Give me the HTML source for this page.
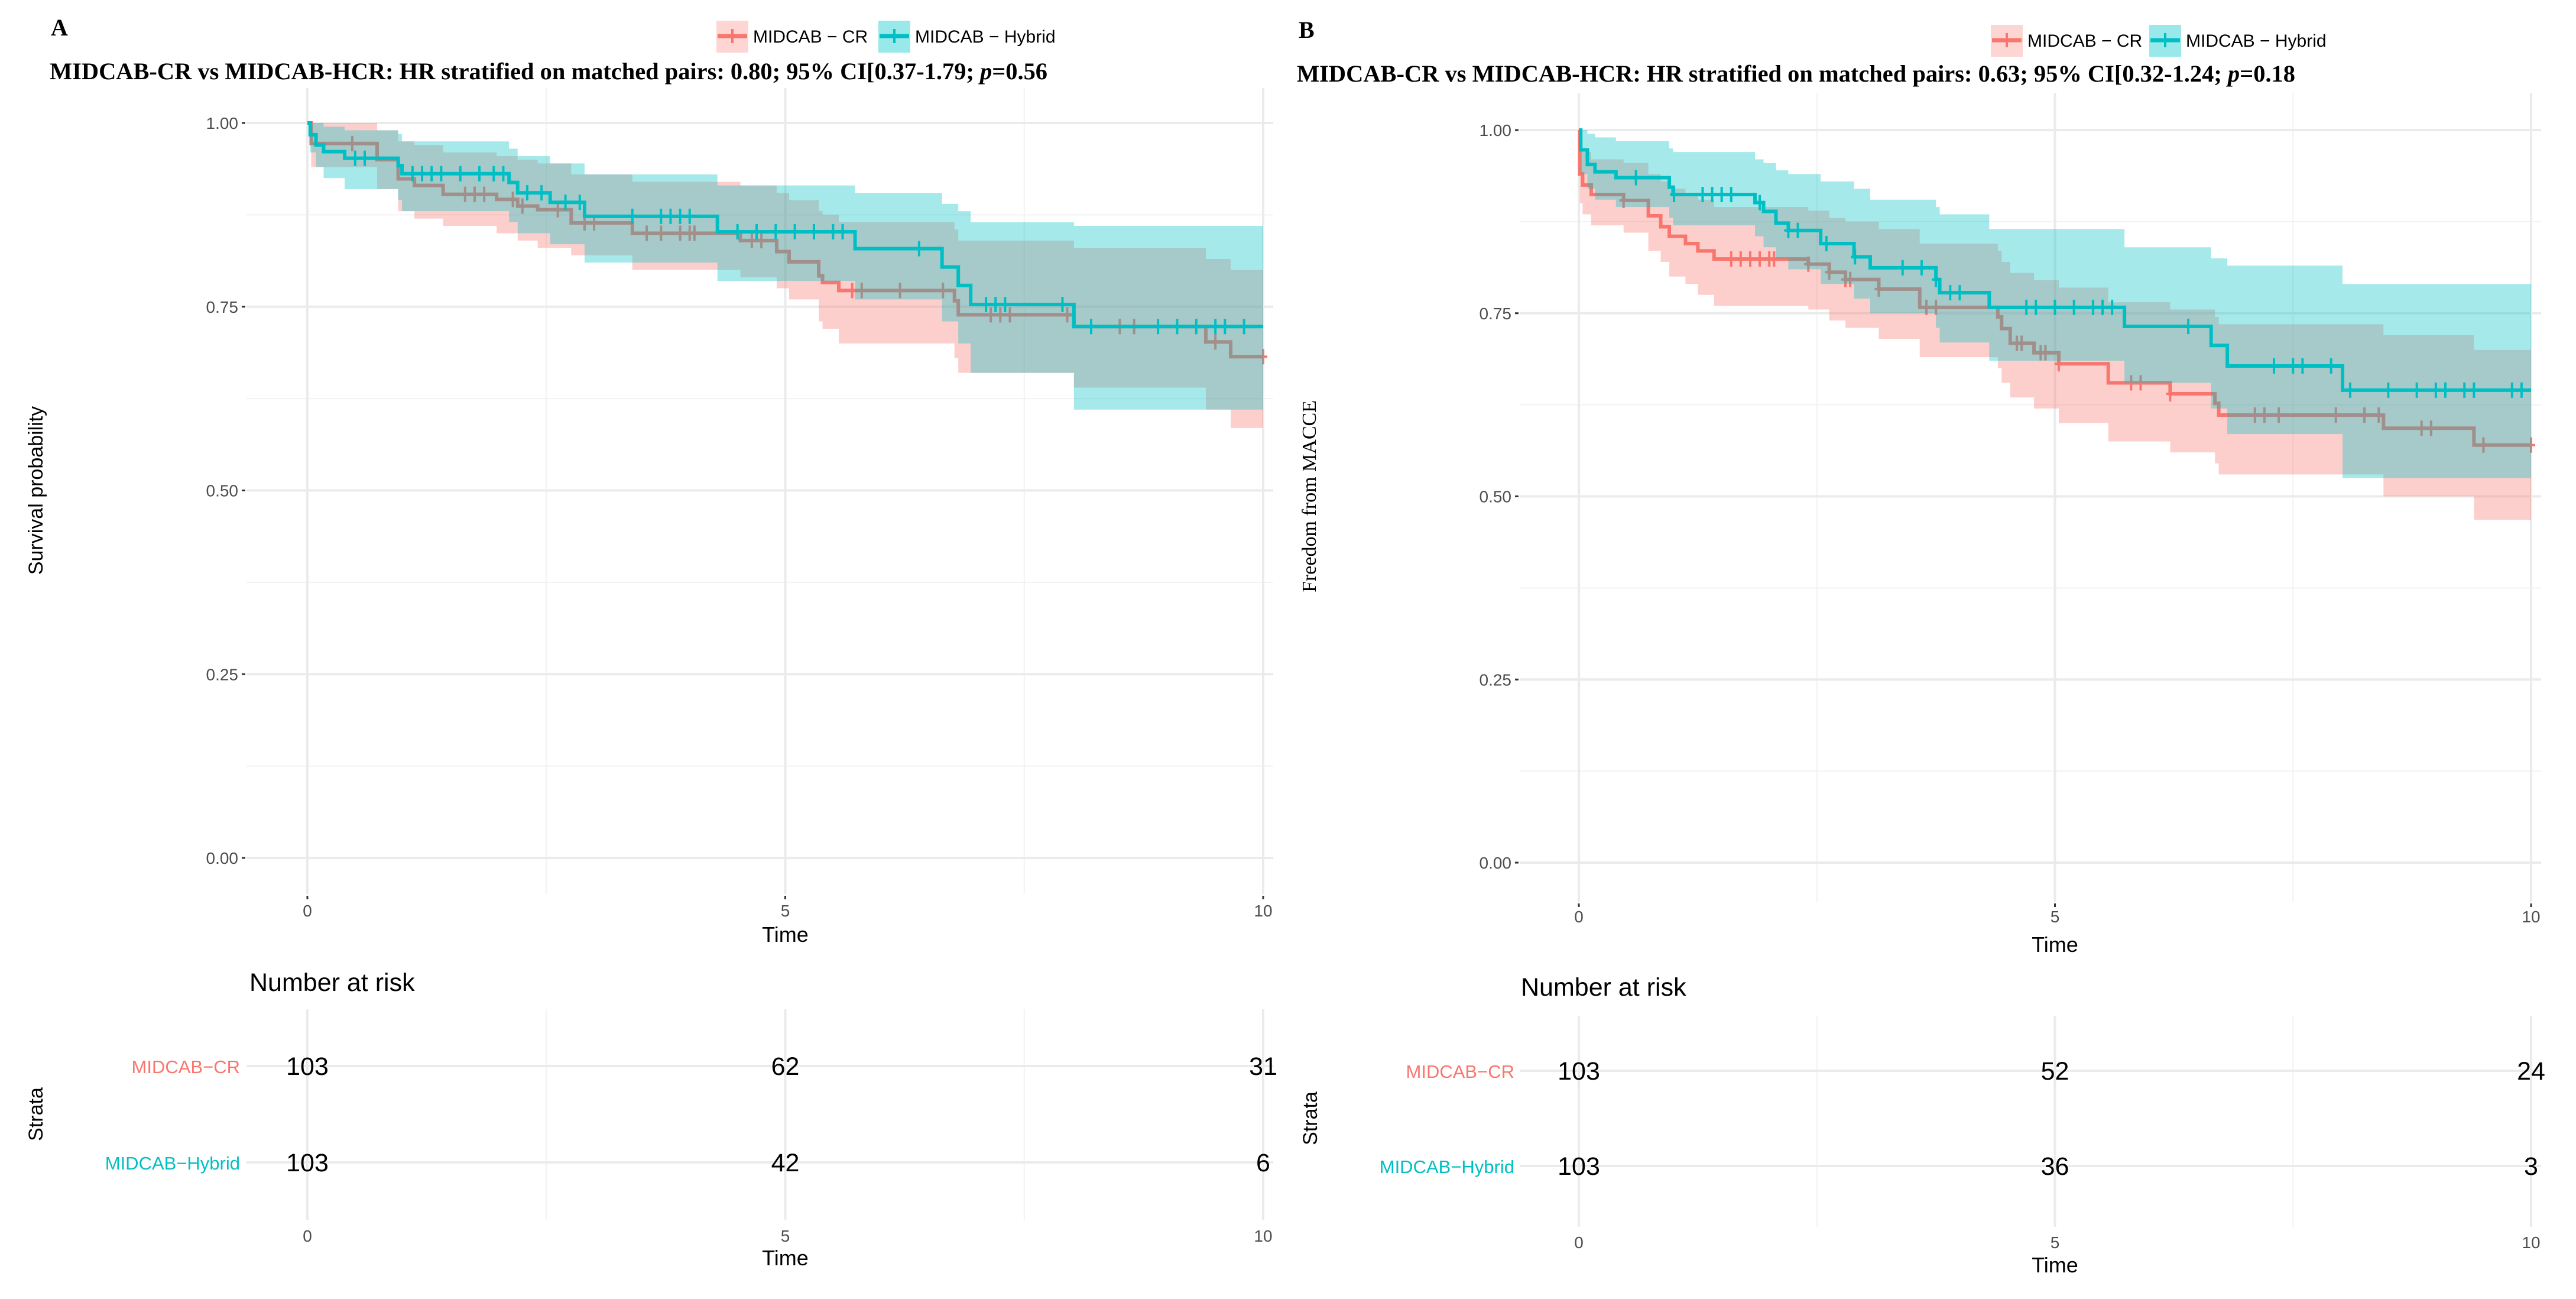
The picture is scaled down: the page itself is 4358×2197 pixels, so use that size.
<!DOCTYPE html>
<html><head><meta charset="utf-8"><style>
html,body{margin:0;padding:0;background:#fff;}
svg{display:block;}
</style></head><body>
<svg id="chart" width="4358" height="2197" viewBox="0 0 4358 2197" xmlns="http://www.w3.org/2000/svg">
</svg>
<script>
// ---------- Panel A data (overall survival) ----------
const crA_t  = [0,0.04,0.73,0.95,1.12,1.42,1.98,2.2,2.41,2.76,3.4,4.53,4.91,5.04,5.35,5.39,5.56,6.77,6.81,8.02,9.4,9.66];
const crA_s  = [1,0.972,0.95,0.924,0.915,0.903,0.896,0.887,0.882,0.864,0.85,0.84,0.825,0.811,0.792,0.783,0.772,0.758,0.739,0.723,0.702,0.682];
const crA_lo = [1,0.94,0.91,0.88,0.87,0.86,0.85,0.84,0.83,0.82,0.80,0.79,0.775,0.76,0.73,0.72,0.70,0.68,0.66,0.64,0.61,0.585];
const crA_hi = [1,1,0.99,0.975,0.97,0.96,0.955,0.95,0.945,0.93,0.92,0.915,0.905,0.895,0.88,0.875,0.865,0.855,0.84,0.83,0.815,0.80];
const crA_c  = [0.47,1.65,1.75,1.85,2.15,2.25,2.62,2.9,3.0,3.55,3.7,3.9,4.0,4.05,4.65,4.75,5.7,5.8,6.2,6.65,7.15,7.25,7.35,7.95,8.5,8.65,9.5,10.0];
const hyA_t  = [0,0.03,0.09,0.17,0.39,0.95,0.99,2.11,2.2,2.54,2.9,4.29,5.73,6.64,6.81,6.94,8.02];
const hyA_s  = [1,0.984,0.97,0.961,0.952,0.942,0.931,0.919,0.905,0.892,0.873,0.852,0.829,0.804,0.779,0.753,0.723];
const hyA_lo = [1,0.96,0.94,0.925,0.91,0.895,0.88,0.865,0.85,0.835,0.81,0.785,0.76,0.73,0.70,0.66,0.61];
const hyA_hi = [1,1,1,0.995,0.99,0.985,0.975,0.965,0.955,0.945,0.93,0.915,0.905,0.89,0.88,0.865,0.86];
const hyA_c  = [0.5,0.6,1.1,1.2,1.3,1.4,1.6,1.8,1.95,2.05,2.3,2.45,2.7,2.85,3.4,3.7,3.8,3.9,4.0,4.5,4.7,4.9,5.1,5.3,5.5,5.6,6.4,7.1,7.2,7.3,7.9,8.2,8.9,9.1,9.3,9.5,9.6,9.8];
const riskA_cr = [103,62,31];
const riskA_hy = [103,42,6];

// ---------- Panel B data (freedom from MACCE) ----------
const crB_t  = [0,0.01,0.04,0.13,0.47,0.73,0.86,0.95,1.12,1.25,1.42,2.41,2.63,2.8,3.15,3.58,4.4,4.44,4.53,4.78,5.04,5.56,6.21,6.68,6.72,8.45,9.4];
const crB_s  = [1,0.94,0.925,0.912,0.904,0.883,0.868,0.855,0.845,0.835,0.824,0.817,0.806,0.796,0.783,0.758,0.745,0.729,0.709,0.696,0.681,0.655,0.640,0.627,0.611,0.593,0.570];
const crB_lo = [1,0.90,0.885,0.87,0.86,0.835,0.82,0.80,0.79,0.775,0.76,0.755,0.74,0.73,0.715,0.69,0.675,0.655,0.635,0.62,0.60,0.575,0.56,0.545,0.53,0.50,0.468];
const crB_hi = [1,0.98,0.97,0.96,0.955,0.94,0.93,0.92,0.91,0.905,0.895,0.89,0.88,0.875,0.865,0.845,0.835,0.82,0.805,0.795,0.785,0.765,0.755,0.745,0.735,0.72,0.70];
const crB_c  = [0.47,1.6,1.7,1.8,1.9,2.0,2.05,2.41,2.63,2.8,2.85,3.15,3.65,3.75,4.6,4.65,4.85,4.9,5.04,5.8,5.9,6.21,7.1,7.2,7.35,7.95,8.25,8.4,8.85,8.95,9.5,10.0];
const hyB_t  = [0,0.02,0.09,0.17,0.39,0.95,0.99,1.85,1.94,2.07,2.2,2.54,2.89,3.06,3.75,3.79,4.31,5.73,6.64,6.81,8.02];
const hyB_s  = [1,0.973,0.953,0.943,0.935,0.922,0.912,0.901,0.889,0.873,0.863,0.845,0.827,0.812,0.796,0.778,0.758,0.732,0.706,0.678,0.645];
const hyB_lo = [1,0.94,0.92,0.905,0.895,0.88,0.87,0.855,0.84,0.825,0.81,0.79,0.77,0.75,0.73,0.71,0.685,0.655,0.62,0.585,0.525];
const hyB_hi = [1,1,0.995,0.99,0.985,0.975,0.97,0.96,0.955,0.945,0.94,0.93,0.92,0.905,0.895,0.885,0.865,0.84,0.825,0.815,0.79];
const hyB_c  = [0.6,1.0,1.3,1.4,1.5,1.6,1.9,2.2,2.3,2.6,2.9,3.4,3.6,3.75,3.9,4.0,4.7,4.8,5.0,5.2,5.4,5.5,5.6,6.4,7.3,7.5,7.6,7.9,8.1,8.5,8.8,9.0,9.1,9.3,9.4,9.8,9.9];
const riskB_cr = [103,52,24];
const riskB_hy = [103,36,3];

const xTicks = [0,5,10];
const yTicks = [0,0.25,0.5,0.75,1];
const yTickLabels = ["0.00","0.25","0.50","0.75","1.00"];
const stratNames = ["MIDCAB\u2212CR","MIDCAB\u2212Hybrid"];

const RED = "#F8766D", TEAL = "#00BFC4";
const NS = "http://www.w3.org/2000/svg";
const svg = document.getElementById("chart");

function mk(tag, attrs, parent){
  const e = document.createElementNS(NS, tag);
  for (const k in attrs) e.setAttribute(k, attrs[k]);
  (parent||svg).appendChild(e);
  return e;
}
function txt(parent, x, y, s, size, anchor, fill, family, weight){
  const t = mk("text", {x:x, y:y, "font-size":size, "text-anchor":anchor||"start", fill:fill||"#000",
    "font-family": family||"'Liberation Sans', sans-serif", "font-weight":weight||"normal"}, parent);
  t.textContent = s;
  return t;
}

function panel(cfg){
  const g = mk("g", {});
  
  
  const X = t => cfg.x0 + (cfg.x10 - cfg.x0) * t / 10;
  const Y = s => cfg.y0 + (cfg.y1 - cfg.y0) * s;
  const pl = cfg.pLeft, pr = cfg.pRight, pt = cfg.pTop, pb = cfg.pBot;

  const L = txt(g, cfg.letterX, cfg.letterY, cfg.letter, 40, "start", "#000", "'Liberation Serif', serif", "bold");
  
  

  const lg = mk("g", {}, g);
  
  
  const items = [[RED, "#FDD6D3", "MIDCAB \u2212 CR", cfg.legX[0]], [TEAL, "#99E9EA", "MIDCAB \u2212 Hybrid", cfg.legX[1]]];
  items.forEach((it, i) => {
    const e = mk("g", {}, lg);
    
    
    mk("rect", {x: it[3], y: cfg.legY - 26, width: 54, height: 54, fill: it[1]}, e);
    mk("line", {x1: it[3] + 2, x2: it[3] + 52, y1: cfg.legY, y2: cfg.legY, stroke: it[0], "stroke-width": 7}, e);
    mk("line", {x1: it[3] + 27, x2: it[3] + 27, y1: cfg.legY - 12, y2: cfg.legY + 12, stroke: it[0], "stroke-width": 4}, e);
    txt(e, it[3] + 62, cfg.legY + 11, it[2], 30, "start", "#000");
  });

  // title with italic p
  const T = mk("text", {x: cfg.titleX, y: cfg.titleY, "font-size": 40, "font-family": "'Liberation Serif', serif", "font-weight": "bold", fill: "#000", textLength: cfg.titleW, lengthAdjust: "spacingAndGlyphs"}, g);
  const s1 = mk("tspan", {}, T); s1.textContent = cfg.titleMain;
  const s2 = mk("tspan", {"font-style": "italic"}, T); s2.textContent = "p";
  const s3 = mk("tspan", {}, T); s3.textContent = cfg.titleP;
  
  

  const grid = mk("g", {}, g);
  
  
  [0.125,0.375,0.625,0.875].forEach(v => mk("line", {x1:pl,x2:pr,y1:Y(v),y2:Y(v),stroke:"#F2F2F2","stroke-width":2}, grid));
  [2.5,7.5].forEach(v => mk("line", {x1:X(v),x2:X(v),y1:pt,y2:pb,stroke:"#F2F2F2","stroke-width":2}, grid));
  yTicks.forEach(v => mk("line", {x1:pl,x2:pr,y1:Y(v),y2:Y(v),stroke:"#EBEBEB","stroke-width":4}, grid));
  xTicks.forEach(v => mk("line", {x1:X(v),x2:X(v),y1:pt,y2:pb,stroke:"#EBEBEB","stroke-width":4}, grid));

  const ya = mk("g", {}, g);
  
  
  yTicks.forEach((v, i) => {
    mk("line", {x1:pl-8,x2:pl-2,y1:Y(v),y2:Y(v),stroke:"#333","stroke-width":3}, ya);
    txt(ya, pl - 14, Y(v) + 10, yTickLabels[i], 28, "end", "#4D4D4D");
  });
  const yt = txt(g, 0, 0, cfg.yTitle, 34, "middle", "#000", cfg.yTitleSerif ? "'Liberation Serif', serif" : "'Liberation Sans', sans-serif");
  yt.setAttribute("transform", `translate(${cfg.yTitleX},${(Y(0)+Y(1))/2}) rotate(-90)`);
  
  

  const xa = mk("g", {}, g);
  
  
  xTicks.forEach(v => {
    mk("line", {x1:X(v),x2:X(v),y1:pb+3,y2:pb+9,stroke:"#333","stroke-width":3}, xa);
    txt(xa, X(v), cfg.xTickY, String(v), 28, "middle", "#4D4D4D");
  });
  txt(xa, X(5), cfg.xTitleY, "Time", 36, "middle", "#000");

  function stepPath(t, s){
    let d = `M${X(t[0])},${Y(s[0])}`;
    for (let i = 1; i < t.length; i++) d += `H${X(t[i])}V${Y(s[i])}`;
    d += `H${X(10)}`;
    return d;
  }
  function ribbon(t, lo, hi){
    let up = `M${X(t[0])},${Y(hi[0])}`;
    for (let i = 1; i < t.length; i++) up += `H${X(t[i])}V${Y(hi[i])}`;
    up += `H${X(10)}V${Y(lo[lo.length-1])}`;
    for (let i = t.length - 1; i >= 1; i--) up += `H${X(t[i])}V${Y(lo[i-1])}`;
    up += `H${X(t[0])}Z`;
    return up;
  }
  function valAt(t, s, c){
    let k = 0;
    for (let i = 0; i < t.length; i++) if (t[i] <= c) k = i;
    return s[k];
  }
  const series = [
    {t:cfg.cr[0], s:cfg.cr[1], lo:cfg.cr[2], hi:cfg.cr[3], c:cfg.cr[4], col:RED, fill:"#F8766D", n:"cr"},
    {t:cfg.hy[0], s:cfg.hy[1], lo:cfg.hy[2], hi:cfg.hy[3], c:cfg.hy[4], col:TEAL, fill:"#00BFC4", n:"hybrid"}
  ];
  series.forEach(se => {
    const rb = mk("path", {d: ribbon(se.t, se.lo, se.hi), fill: se.fill, "fill-opacity": 0.35, stroke: "none"}, g);
    
    
    const ln = mk("path", {d: stepPath(se.t, se.s), fill: "none", stroke: se.col, "stroke-width": 6}, g);
    
    
    const cg = mk("g", {stroke: se.col, "stroke-width": 4}, g);
    
    
    se.c.forEach(c => {
      const v = valAt(se.t, se.s, c);
      mk("line", {x1: X(c), x2: X(c), y1: Y(v) - 13, y2: Y(v) + 13}, cg);
      mk("line", {x1: X(c) - 7, x2: X(c) + 7, y1: Y(v), y2: Y(v)}, cg);
    });
  });

  const rt = mk("g", {}, g);
  
  
  const nt = txt(rt, cfg.narX, cfg.narY, "Number at risk", 43, "start", "#000");
  
  
  [2.5,7.5].forEach(v => mk("line", {x1:X(v),x2:X(v),y1:cfg.tTop,y2:cfg.tBot,stroke:"#F2F2F2","stroke-width":2}, rt));
  xTicks.forEach(v => mk("line", {x1:X(v),x2:X(v),y1:cfg.tTop,y2:cfg.tBot,stroke:"#EBEBEB","stroke-width":4}, rt));
  [cfg.rowCR, cfg.rowHY].forEach(y => mk("line", {x1:pl,x2:pr,y1:y,y2:y,stroke:"#EBEBEB","stroke-width":4}, rt));
  txt(rt, cfg.labX, cfg.rowCR + 12, stratNames[0], 31, "end", RED);
  txt(rt, cfg.labX, cfg.rowHY + 12, stratNames[1], 31, "end", TEAL);
  xTicks.forEach((v, i) => {
    txt(rt, X(v), cfg.rowCR + 15, String(cfg.riskCR[i]), 43, "middle", "#000");
    txt(rt, X(v), cfg.rowHY + 15, String(cfg.riskHY[i]), 43, "middle", "#000");
    txt(rt, X(v), cfg.tTickY, String(v), 28, "middle", "#4D4D4D");
  });
  txt(rt, X(5), cfg.tTitleY, "Time", 36, "middle", "#000");
  const st = txt(rt, 0, 0, "Strata", 34, "middle", "#000");
  st.setAttribute("transform", `translate(${cfg.strataX},${(cfg.rowCR+cfg.rowHY)/2}) rotate(-90)`);
}

panel({
  name: "panel-a", letter: "A", letterX: 86, letterY: 60,
  legX: [1212, 1486], legY: 61,
  titleMain: "MIDCAB-CR vs MIDCAB-HCR: HR stratified on matched pairs: 0.80; 95% CI[0.37-1.79; ", titleP: "=0.56",
  titleX: 84, titleY: 134, titleW: 1688,
  x0: 520, x10: 2137, y1: 208, y0: 1451,
  pLeft: 417, pRight: 2154, pTop: 149, pBot: 1512,
  yTitle: "Survival probability", yTitleX: 72, yTitleSerif: false,
  xTickY: 1550, xTitleY: 1593,
  cr: [crA_t, crA_s, crA_lo, crA_hi, crA_c], hy: [hyA_t, hyA_s, hyA_lo, hyA_hi, hyA_c],
  narX: 422, narY: 1676, tTop: 1707, tBot: 2063, rowCR: 1803, rowHY: 1966, labX: 406,
  riskCR: riskA_cr, riskHY: riskA_hy, tTickY: 2100, tTitleY: 2140, strataX: 72
});
panel({
  name: "panel-b", letter: "B", letterX: 2197, letterY: 64,
  legX: [3368, 3636], legY: 68,
  titleMain: "MIDCAB-CR vs MIDCAB-HCR: HR stratified on matched pairs: 0.63; 95% CI[0.32-1.24; ", titleP: "=0.18",
  titleX: 2194, titleY: 138, titleW: 1689,
  x0: 2671, x10: 4282, y1: 220, y0: 1459,
  pLeft: 2571, pRight: 4299, pTop: 157, pBot: 1525,
  yTitle: "Freedom from MACCE", yTitleX: 2226, yTitleSerif: true,
  xTickY: 1560, xTitleY: 1610,
  cr: [crB_t, crB_s, crB_lo, crB_hi, crB_c], hy: [hyB_t, hyB_s, hyB_lo, hyB_hi, hyB_c],
  narX: 2573, narY: 1684, tTop: 1718, tBot: 2075, rowCR: 1811, rowHY: 1972, labX: 2562,
  riskCR: riskB_cr, riskHY: riskB_hy, tTickY: 2111, tTitleY: 2152, strataX: 2228
});
</script>
</body></html>
